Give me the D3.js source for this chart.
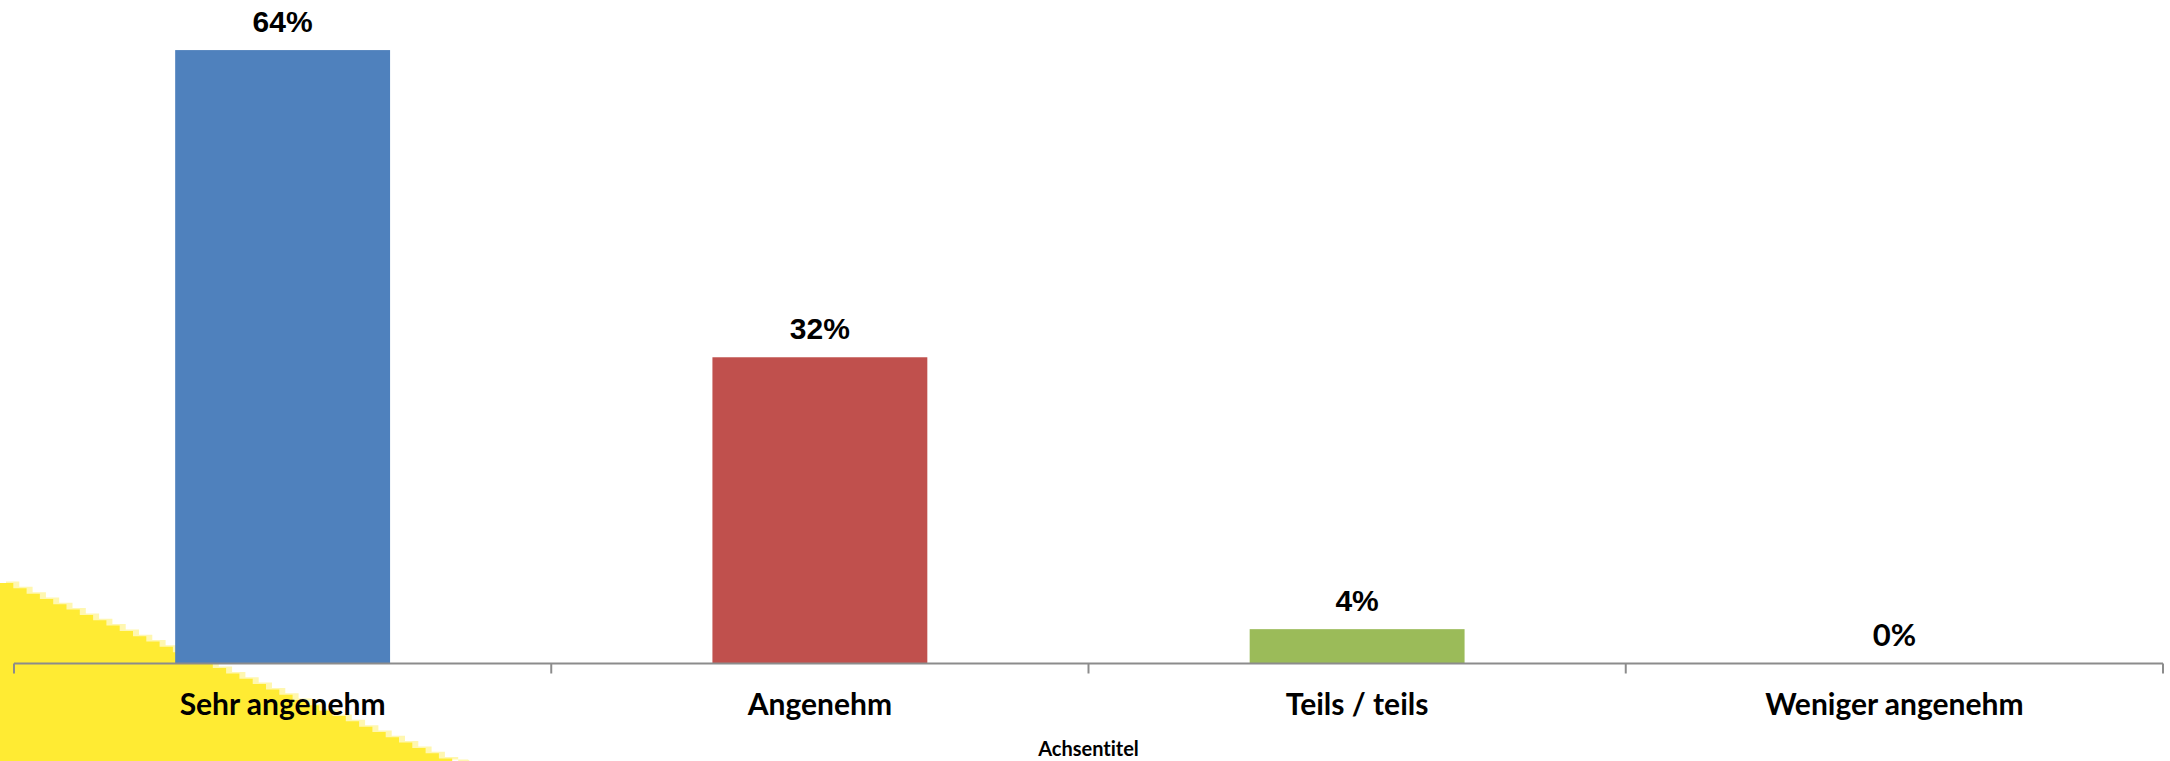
<!DOCTYPE html>
<html>
<head>
<meta charset="utf-8">
<script src="https://cdn.jsdelivr.net/npm/d3@7/dist/d3.min.js"></script>
<style>
html,body{margin:0;padding:0;background:#fff;overflow:hidden;}
text{font-variant-ligatures:none;font-feature-settings:"liga" 0;}
</style>
</head>
<body>
<svg id="chart" width="2170" height="761"></svg>
<script>
const categories = ["Sehr angenehm", "Angenehm", "Teils / teils", "Weniger angenehm"];
const values = [0.643, 0.321, 0.036, 0];
const valueLabels = ["64%", "32%", "4%", "0%"];
const colors = ["#4F81BD", "#C0504D", "#9BBB59", "#8064A2"];
const axisTitle = "Achsentitel";

const svg = d3.select("#chart");
const W = 2170, H = 761;
const left = 14, right = 2163, axisY = 663.5;

// yellow stepped decoration (background)
const deco = svg.append("g");
const step = 13.3, slope = 0.4, y0 = 583;
let pts = [[0, H]];
for (let x = 0; x < 460; x += step) {
  const y = y0 + slope * x;
  pts.push([x, y]);
  pts.push([x + step, y]);
}
pts.push([462, H]);
deco.append("path")
  .attr("d", d3.line()(pts.map(p => [p[0] + 6, p[1] - 1.5])) + "Z")
  .attr("fill", "#FFF7B0");
deco.append("path")
  .attr("d", d3.line()(pts) + "Z")
  .attr("fill", "#FFEB33");

const x = d3.scaleBand().domain(categories).range([left, right]).paddingInner(0.6).paddingOuter(0.3);
const xb = d3.scaleBand().domain(categories).range([left, right]);
const y = d3.scaleLinear().domain([0, 0.7]).range([axisY, axisY - 0.7 * 954]);

svg.append("g").selectAll("rect").data(values).join("rect")
  .attr("x", (d, i) => x(categories[i]))
  .attr("width", x.bandwidth())
  .attr("y", d => y(d))
  .attr("height", d => y(0) - y(d))
  .attr("fill", (d, i) => colors[i]);

// axis
const axis = d3.axisBottom(xb).tickSize(0).tickFormat("");
const ag = svg.append("g").attr("transform", `translate(0,${axisY})`).call(axis);
ag.select(".domain").attr("stroke", "#8C8C8C").attr("stroke-width", 2).attr("d", `M${left},0H${right}`);
const tickPos = categories.map(c => xb(c)).concat([right]);
ag.selectAll(".sep").data(tickPos).join("line")
  .attr("x1", d => d).attr("x2", d => d).attr("y1", 0).attr("y2", 10)
  .attr("stroke", "#8C8C8C").attr("stroke-width", 2);

// category labels
svg.append("g").selectAll("text").data(categories).join("text")
  .attr("x", d => xb(d) + xb.bandwidth() / 2)
  .attr("y", 715)
  .attr("text-anchor", "middle")
  .attr("font-family", "Lato, 'Open Sans', sans-serif")
  .attr("font-weight", "bold")
  .attr("font-size", 30)
  .attr("fill", "#000")
  .text(d => d);

// value labels
svg.append("g").selectAll("text").data(values).join("text")
  .attr("x", (d, i) => xb(categories[i]) + xb.bandwidth() / 2)
  .attr("y", d => y(d) - 18)
  .attr("text-anchor", "middle")
  .attr("font-family", (d, i) => d === 0 ? "Lato, sans-serif" : "'Liberation Sans', Arial, sans-serif")
  .attr("font-weight", "bold")
  .attr("font-size", (d, i) => d === 0 ? 31 : 30)
  .attr("fill", "#000")
  .text((d, i) => valueLabels[i]);

// axis title
svg.append("text")
  .attr("x", (left + right) / 2)
  .attr("y", 756)
  .attr("text-anchor", "middle")
  .attr("font-family", "Lato, sans-serif")
  .attr("font-weight", "bold")
  .attr("font-size", 20)
  .attr("fill", "#000")
  .text(axisTitle);
</script>
</body>
</html>
